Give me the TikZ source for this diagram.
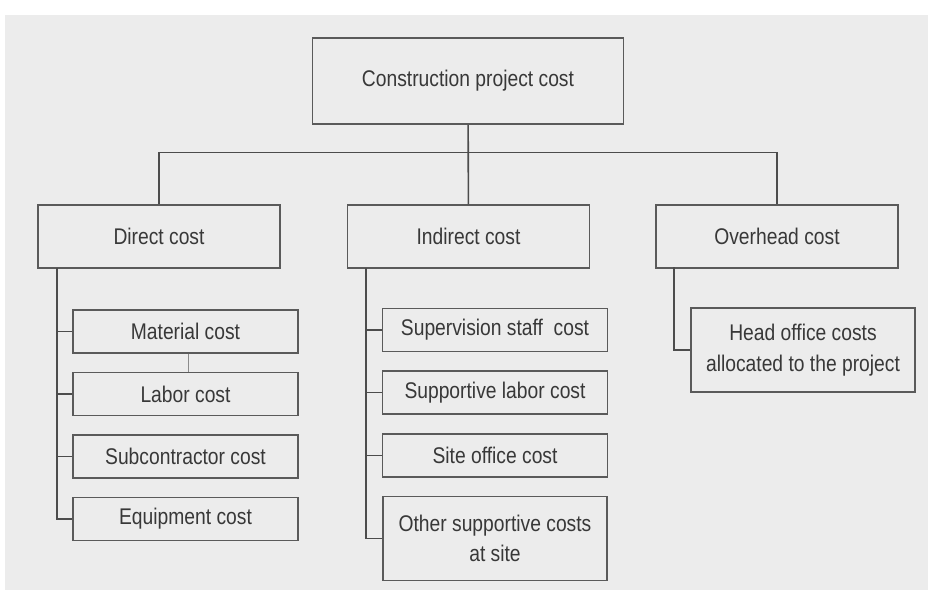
\documentclass[tikz,border=0pt]{standalone}
\usepackage{fontspec}
\setmainfont{Liberation Sans}[FakeStretch=0.85]
\definecolor{ink}{HTML}{383838}
\definecolor{rim}{HTML}{5A5A5A}
\definecolor{paper}{HTML}{ECECEC}
\tikzset{
 cbox/.style={draw=rim,line width=1.2pt,text=ink,inner sep=0pt,align=center,
  font=\fontsize{17}{23}\selectfont},
 topbox/.style={cbox,minimum width=233pt,minimum height=64.5pt},
 mainbox/.style={cbox,minimum width=181.5pt,minimum height=47pt},
 subbox/.style={cbox,minimum width=169pt,minimum height=32pt},
 tallbox/.style={cbox,minimum width=168pt,minimum height=63pt},
 link/.style={draw=rim!85!black,line width=1.2pt},
}
\begin{document}
\begin{tikzpicture}[x=.75pt,y=.75pt]
 \useasboundingbox (0,0) rectangle (928,-590);
 \fill[paper] (5,-15) rectangle (928,-590);
 \path
 (468,-81) node[topbox] (top) {Construction project cost} % <<< level 1
 (159,-236.5) node[mainbox] (direct) {Direct cost} % <<< level 2
 ++(0:309.5) node[mainbox] (indirect) {Indirect cost}
 ++(0:308.5) node[mainbox] (overhead) {Overhead cost}
 (185.5,-331.5) node[subbox] (material) {Material cost} % <<< direct cost items
 ++(-90:62.5) node[subbox] (labor) {Labor cost}
 ++(-90:62.5) node[subbox] (subcon) {Subcontractor cost}
 ++(-90:62.5) node[subbox] (equip) {Equipment cost}
 (495,-330) node[subbox] (staff) {Supervision staff\ \ cost} % <<< indirect cost items
 ++(-90:62.5) node[subbox] (support) {Supportive labor cost}
 ++(-90:63) node[subbox] (siteoff) {Site office cost}
 ++(-90:83) node[tallbox] (other) {Other supportive costs\\at site}
 (803,-350) node[tallbox] (headoff) {Head office costs\\allocated to the project}; % <<< overhead item
 \coordinate (dspine) at (57,-268);
 \coordinate (ispine) at (366,-268);
 \coordinate (ospine) at (674,-267);
 \draw[link] (top) -- (indirect);
 \draw[link] (direct.north) -- ++(90:52) -| (overhead.north);
 \draw[link] (dspine) |- (equip.west);
 \draw[link] (ispine) |- (other.west);
 \draw[link] (ospine) |- (headoff.west);
 \foreach \n in {material,labor,subcon}
  \draw[link] (dspine |- \n.west) -- (\n.west);
 \foreach \n in {staff,support,siteoff}
  \draw[link] (ispine |- \n.west) -- (\n.west);
 \draw[draw=rim!70,line width=.6pt] ([xshift=2pt]material.south) -- ([xshift=2pt]labor.north);
\end{tikzpicture}
\end{document}
